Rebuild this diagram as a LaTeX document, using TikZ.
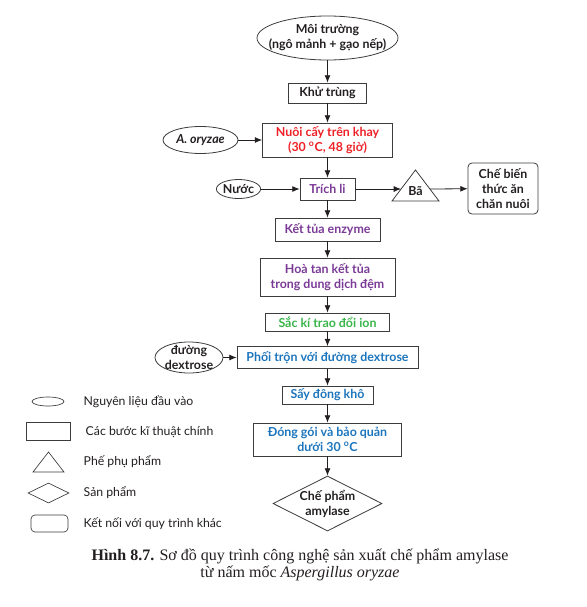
\documentclass[tikz,border=0pt]{standalone}
\usepackage{fontspec}
\setmainfont{Lato}
\newfontfamily\captionfont{Liberation Serif}
\usetikzlibrary{arrows.meta,shapes.geometric}
\definecolor{stepred}{RGB}{237,33,39}
\definecolor{steppurple}{RGB}{122,58,150}
\definecolor{stepgreen}{RGB}{57,181,74}
\definecolor{stepblue}{RGB}{28,117,188}
\definecolor{edge}{RGB}{60,60,60}
\definecolor{ink}{RGB}{35,31,32}

\begin{document}
\begin{tikzpicture}[x=0.75pt, y=-0.75pt,
    font=\fontsize{9.3}{11.3}\selectfont\bfseries, text=ink,
    input/.style={draw=edge, line width=0.6pt, ellipse, inner sep=0pt, align=center},
    stepbox/.style={draw=edge, line width=0.6pt, rectangle, inner sep=0pt, align=center},
    flow/.style={-{Latex[length=5.5pt,width=4.5pt]}, line width=0.6pt, draw=ink},
    keytext/.style={anchor=west, font=\fontsize{9.2}{11}\selectfont\mdseries}]
    \useasboundingbox (0,0) rectangle (586,607);
    %\draw[lightgray] (0,0) grid[step=50] (586,607);
    \node[input, minimum width=105.75pt, minimum height=33pt, inner xsep=-12pt, inner ysep=1pt] (medium) at (327.5,38) {Môi trường\\(ngô mảnh + gạo nếp)};
    \node[stepbox, minimum width=58.5pt, minimum height=15pt] (sterile) at (327.5,93) {Khử trùng};
    \node[stepbox, text=stepred, minimum width=97.5pt, minimum height=25.5pt] (culture) at (327.5,140) {Nuôi cấy trên khay\\(30 \textsuperscript{o}C, 48 giờ)};
    \node[input, minimum width=56.25pt, minimum height=20.25pt] (fungus) at (200.5,140) {\itshape A. oryzae};
    \node[stepbox, text=steppurple, minimum width=41.25pt, minimum height=16.5pt] (extract) at (327.5,189) {Trích li};
    \node[input, minimum width=32.25pt, minimum height=14.25pt] (water) at (238.5,189) {Nước};
    \draw[draw=edge, line width=0.6pt] (392,201) -- (415.5,170) -- (439,201) -- cycle;
    \node (residue) at (415.5,191) {Bã};
    \coordinate (residue in) at (401,189);
    \coordinate (residue out) at (430,189);
    \node[draw=edge, line width=0.6pt, rounded corners=3pt, inner sep=0pt, align=center, minimum width=52.5pt, minimum height=38.25pt] (feed) at (503,188.5) {Chế biến\\thức ăn\\chăn nuôi};
    \node[stepbox, text=steppurple, minimum width=78.75pt, minimum height=17.25pt] (precip) at (327.5,229.5) {Kết tủa enzyme};
    \node[stepbox, text=steppurple, minimum width=101.25pt, minimum height=28.5pt] (dissolve) at (327.5,277) {Hoà tan kết tủa\\trong dung dịch đệm};
    \node[stepbox, text=stepgreen, minimum width=93pt, minimum height=13.5pt] (ionex) at (327.5,322) {Sắc kí trao đổi ion};
    \node[stepbox, text=stepblue, minimum width=135.75pt, minimum height=16.5pt] (mix) at (327.5,357.5) {Phối trộn với đường dextrose};
    \node[input, minimum width=51pt, minimum height=23.25pt, inner sep=-2.5pt] (dextrose) at (189,357.5) {đường\\dextrose};
    \node[stepbox, text=stepblue, minimum width=68.25pt, minimum height=13.5pt] (dry) at (327.5,395) {Sấy đông khô};
    \node[stepbox, text=stepblue, minimum width=111pt, minimum height=24.75pt] (pack) at (327.5,439.5) {Đóng gói và bảo quản\\dưới 30 \textsuperscript{o}C};
    \node[draw=edge, line width=0.6pt, diamond, aspect=2, inner sep=-0.5pt, align=center, minimum width=81.75pt, minimum height=41.25pt] (product) at (327.5,503.5) {Chế phẩm\\amylase};
    \draw[flow] (medium) -- (sterile);
    \draw[flow] (sterile) -- (culture);
    \draw[flow] (fungus) -- (culture);
    \draw[flow] (culture) -- (extract);
    \draw[flow] (water) -- (extract);
    \draw[flow] (extract) -- (residue in);
    \draw[flow] (residue out) -- (feed);
    \draw[flow] (extract) -- (precip);
    \draw[flow] (precip) -- (dissolve);
    \draw[flow] (dissolve) -- (ionex);
    \draw[flow] (ionex) -- (mix);
    \draw[flow] (dextrose) -- (mix);
    \draw[flow] (mix) -- (dry);
    \draw[flow] (dry) -- (pack);
    \draw[flow] (pack) -- (product);
    % legend
    \node[draw=edge, line width=0.5pt, ellipse, inner sep=0pt, minimum width=24pt, minimum height=6.75pt] (key input) at (48,401.5) {};
    \node[keytext] (key input text) at (79,402) {Nguyên liệu đầu vào};
    \node[draw=edge, line width=0.5pt, rectangle, inner sep=0pt, minimum width=33pt, minimum height=13.5pt] (key step) at (48,431) {};
    \node[keytext] (key step text) at (81,432) {Các bước kĩ thuật chính};
    \draw[draw=edge, line width=0.5pt] (33,472) -- (48.5,452) -- (64,472) -- cycle;
    \node[keytext] (key residue text) at (79,462) {Phế phụ phẩm};
    \node[draw=edge, line width=0.5pt, diamond, aspect=2, inner sep=0pt, minimum width=30.75pt, minimum height=15pt] (key product) at (48.5,493) {};
    \node[keytext] (key product text) at (79,493) {Sản phẩm};
    \node[draw=edge, line width=0.5pt, rounded corners=3pt, inner sep=0pt, minimum width=27.75pt, minimum height=12.75pt] (key link) at (49.5,523.5) {};
    \node[keytext] (key link text) at (79,524) {Kết nối với quy trình khác};
    \node[align=center, font=\captionfont\fontsize{12}{12.3}\selectfont\mdseries] (caption) at (300,565) {\textbf{Hình 8.7.} Sơ đồ quy trình công nghệ sản xuất chế phẩm amylase\\từ nấm mốc \textit{Aspergillus oryzae}};
\end{tikzpicture}
\end{document}
